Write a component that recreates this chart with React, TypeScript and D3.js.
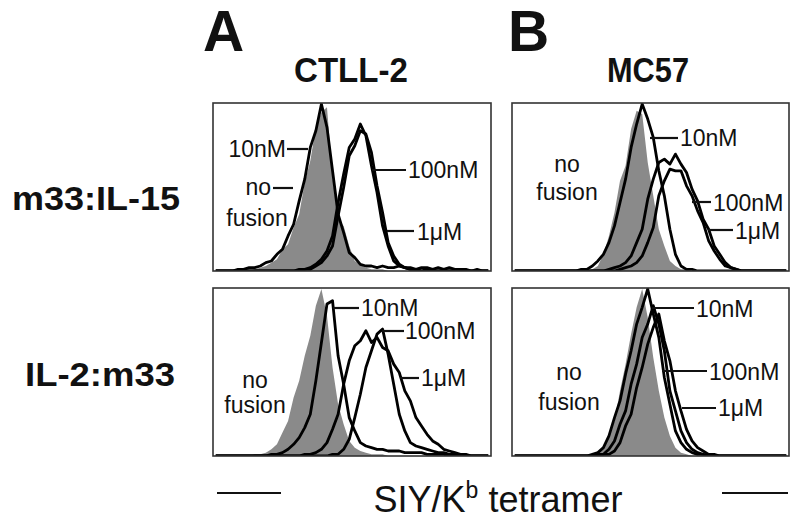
import React from "react";
import * as d3 from "d3";

// histogram counts, 50 bins each, scaled so the tallest peak is 100
const atGrey = [0,0,0,0,0,0,0,1,2,3, 5,7,13,16,26,34,53,66,86,95, 98,56,31,27,15,6,4,2,1,1, 1,0,0,0,0,0,0,0,0,0, 0,0,0,0,0,0,0,0,0,0];
const at10nM = [0,0,0,0,1,1,2,2,3,5, 6,10,13,21,28,42,55,74,84,100, 86,60,34,23,11,8,4,3,3,2, 3,2,2,3,2,2,1,2,2,1, 2,1,2,1,1,1,0,1,0,0];
const at100nM = [0,0,0,0,0,0,0,0,0,0, 0,0,0,0,0,1,1,2,4,7, 12,21,41,58,74,79,88,81,63,47, 27,15,6,3,2,1,1,0,1,0, 0,0,0,0,0,0,0,0,0,0];
const at1uM = [0,0,0,0,0,0,0,0,0,0, 0,0,0,0,0,0,1,1,3,5, 9,15,33,50,69,75,84,82,71,51, 35,17,9,4,2,1,1,0,0,0, 0,0,0,0,0,0,0,0,0,0];

const btGrey = [0,0,0,0,0,0,0,0,0,0, 0,0,0,0,1,3,10,21,35,54, 63,85,96,94,65,45,25,15,6,3, 1,1,0,0,0,0,0,0,0,0, 0,0,0,0,0,0,0,0,0,0];
const bt10nM = [0,0,0,0,0,0,0,0,0,0, 0,0,1,1,3,6,10,17,27,41, 55,74,88,100,91,80,60,45,25,10, 3,1,1,0,0,0,0,0,0,0, 0,0,0,0,0,0,0,0,0,0];
const bt100nM = [0,0,0,0,0,0,0,0,0,0, 0,0,0,0,0,0,0,1,2,3, 5,9,17,25,43,55,65,67,64,70, 64,59,49,42,31,25,15,10,5,2, 1,0,0,0,0,0,0,0,0,0];
const bt1uM = [0,0,0,0,0,0,0,0,0,0, 0,0,0,0,0,0,0,0,0,1, 2,3,5,9,17,26,45,54,61,60, 60,51,45,36,29,18,12,7,3,2, 1,0,0,0,0,0,0,0,0,0];

const abGrey = [0,0,0,0,0,0,0,1,1,2, 4,7,14,21,35,45,60,72,90,100, 84,53,31,19,9,5,3,2,1,1, 1,0,0,0,0,0,0,0,0,0, 0,0,0,0,0,0,0,0,0,0];
const ab10nM = [0,0,0,0,0,0,0,0,0,0, 1,1,2,4,7,11,17,25,45,68, 91,93,60,43,23,15,8,6,5,4, 4,3,3,3,2,2,2,2,1,1, 1,1,0,0,0,0,0,0,0,0];
const ab100nM = [0,0,0,0,0,0,0,0,0,0, 0,0,0,0,0,0,0,0,0,0, 0,1,1,4,10,23,37,53,63,73, 76,61,43,25,15,8,6,5,4,3, 2,2,1,1,0,0,0,0,0,0];
const ab1uM = [0,0,0,0,0,0,0,0,0,0, 0,0,0,0,0,0,1,1,2,4, 8,16,25,43,57,66,69,75,68,71, 65,63,55,50,39,33,23,18,13,9, 7,4,3,2,1,1,0,0,0,0];

const bbGrey = [0,0,0,0,0,0,0,0,0,0, 0,0,0,0,1,2,5,12,21,39, 55,73,89,100,83,59,39,23,12,5, 2,1,0,0,0,0,0,0,0,0, 0,0,0,0,0,0,0,0,0,0];
const bb10nM = [0,0,0,0,0,0,0,0,0,0, 0,0,0,0,1,2,5,12,23,33, 49,63,79,89,100,85,71,47,31,15, 8,4,2,1,1,0,0,0,0,0, 0,0,0,0,0,0,0,0,0,0];
const bb100nM = [0,0,0,0,0,0,0,0,0,0, 0,0,0,0,0,1,1,4,9,19, 27,43,55,71,79,90,79,63,39,27, 15,8,4,2,1,0,0,0,0,0, 0,0,0,0,0,0,0,0,0,0];
const bb1uM = [0,0,0,0,0,0,0,0,0,0, 0,0,0,0,0,0,1,1,3,8, 18,25,41,53,67,77,85,69,57,39, 27,16,9,5,3,1,1,0,0,0, 0,0,0,0,0,0,0,0,0,0];

const columns = ["CTLL-2", "MC57"];
const rows = ["m33:IL-15", "IL-2:m33"];

const FONT = "'Liberation Sans', Arial, Helvetica, sans-serif";

type Label = { text: string; x: number; y: number; anchor?: string; lead?: [number, number, number] };

const panels = [
  {
    x0: 213, x1: 491, y0: 103, y1: 271, grey: atGrey, lines: [at10nM, at100nM, at1uM],
    labels: [
      { text: "10nM", x: 286, y: 157, anchor: "end", lead: [287, 308, 149] },
      { text: "no", x: 271, y: 195, anchor: "end", lead: [273, 293, 188] },
      { text: "fusion", x: 257, y: 226, anchor: "middle" },
      { text: "100nM", x: 408, y: 178, lead: [372, 406, 170] },
      { text: "1\u03bcM", x: 417, y: 240, lead: [387, 414, 231] },
    ] as Label[],
  },
  {
    x0: 512, x1: 789, y0: 103, y1: 271, grey: btGrey, lines: [bt10nM, bt100nM, bt1uM],
    labels: [
      { text: "10nM", x: 680, y: 146, lead: [650, 678, 138] },
      { text: "no", x: 567, y: 172, anchor: "middle" },
      { text: "fusion", x: 567, y: 200, anchor: "middle" },
      { text: "100nM", x: 713, y: 211, lead: [692, 711, 202] },
      { text: "1\u03bcM", x: 735, y: 239, lead: [708, 733, 230] },
    ] as Label[],
  },
  {
    x0: 213, x1: 491, y0: 288, y1: 456, grey: abGrey, lines: [ab10nM, ab100nM, ab1uM],
    labels: [
      { text: "10nM", x: 361, y: 316, lead: [333, 359, 308] },
      { text: "100nM", x: 405, y: 339, lead: [382, 404, 331] },
      { text: "1\u03bcM", x: 421, y: 386, lead: [400, 419, 378] },
      { text: "no", x: 255, y: 388, anchor: "middle" },
      { text: "fusion", x: 255, y: 413, anchor: "middle" },
    ] as Label[],
  },
  {
    x0: 512, x1: 789, y0: 288, y1: 456, grey: bbGrey, lines: [bb10nM, bb100nM, bb1uM],
    labels: [
      { text: "10nM", x: 696, y: 317, lead: [652, 694, 308] },
      { text: "100nM", x: 709, y: 380, lead: [662, 707, 371] },
      { text: "1\u03bcM", x: 718, y: 416, lead: [682, 716, 408] },
      { text: "no", x: 569, y: 380, anchor: "middle" },
      { text: "fusion", x: 569, y: 410, anchor: "middle" },
    ] as Label[],
  },
];

function Panel({ p, id }: { p: (typeof panels)[number]; id: number }) {
  const n = p.grey.length;
  const x = d3.scaleLinear().domain([0, n]).range([p.x0, p.x1]);
  const y = d3.scaleLinear().domain([0, 100]).range([p.y1, p.y0 + 1]);
  const pts = (arr: number[]) => arr.map((v, i) => [i + 0.5, v] as [number, number]);
  const area = d3.area<[number, number]>().x(d => x(d[0])).y0(y(0)).y1(d => y(d[1]));
  const line = d3.line<[number, number]>().x(d => x(d[0])).y(d => y(d[1]));
  const clip = `clip${id}`;
  return (
    <g>
      <clipPath id={clip}>
        <rect x={p.x0} y={p.y0} width={p.x1 - p.x0} height={p.y1 - p.y0} />
      </clipPath>
      <g clipPath={`url(#${clip})`}>
        <path d={area(pts(p.grey)) || ""} fill="#8a8a8a" />
        {p.lines.map((l, i) => (
          <path key={i} d={line(pts(l)) || ""} fill="none" stroke="#000" strokeWidth={2.8} strokeLinejoin="round" />
        ))}
      </g>
      <rect x={p.x0} y={p.y0} width={p.x1 - p.x0} height={p.y1 - p.y0} fill="none" stroke="#333" strokeWidth={1.6} />
      {p.labels.map((lb, i) => (
        <g key={i}>
          {lb.lead && <line x1={lb.lead[0]} x2={lb.lead[1]} y1={lb.lead[2]} y2={lb.lead[2]} stroke="#111" strokeWidth={2.2} />}
          <text x={lb.x} y={lb.y} textAnchor={lb.anchor || "start"} fontSize={23} fill="#111">{lb.text}</text>
        </g>
      ))}
    </g>
  );
}

export default function App() {
  return (
    <svg width={800} height={522} style={{ position: "absolute", left: 0, top: 0, background: "#fff" }} fontFamily={FONT}>
      <text x={203} y={51} fontSize={57} fontWeight="bold" fill="#111">A</text>
      <text x={508} y={51} fontSize={57} fontWeight="bold" fill="#111">B</text>
      <text x={351} y={82} fontSize={35} fontWeight="bold" textAnchor="middle" textLength={114} lengthAdjust="spacingAndGlyphs" fill="#111">{columns[0]}</text>
      <text x={648} y={82} fontSize={35} fontWeight="bold" textAnchor="middle" textLength={82} lengthAdjust="spacingAndGlyphs" fill="#111">{columns[1]}</text>
      <text x={12} y={210} fontSize={34} fontWeight="bold" textLength={168} lengthAdjust="spacingAndGlyphs" fill="#111">{rows[0]}</text>
      <text x={25} y={386} fontSize={34} fontWeight="bold" textLength={150} lengthAdjust="spacingAndGlyphs" fill="#111">{rows[1]}</text>
      {panels.map((p, i) => <Panel key={i} p={p} id={i} />)}
      <line x1={217} x2={281} y1={493} y2={493} stroke="#111" strokeWidth={2} />
      <line x1={722} x2={788} y1={493} y2={493} stroke="#111" strokeWidth={2} />
      <text x={498} y={512} fontSize={36} textAnchor="middle" fill="#111">
        SIY/K<tspan fontSize={23} dy={-14}>b</tspan><tspan dy={14}> tetramer</tspan>
      </text>
    </svg>
  );
}
